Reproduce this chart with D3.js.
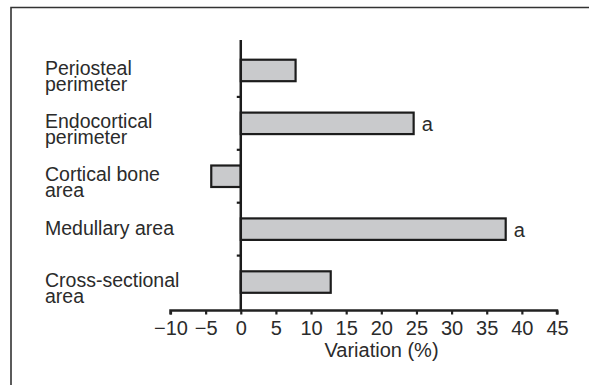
<!DOCTYPE html>
<html lang="en">
<head>
  <meta charset="UTF-8">
  <title>Variation bar chart</title>
  <script src="https://d3js.org/d3.v7.min.js"></script>
  <style>
    body { margin: 0; background: #fff; }
    text { font-family: "Liberation Sans", Arial, sans-serif; fill: #2b2b2b; }
  </style>
</head>
<body>
<div id="chart"></div>
<script>
  // Data
  const categories = ["Periosteal perimeter", "Endocortical perimeter", "Cortical bone area", "Medullary area", "Cross-sectional area"];
  const labelLines = [["Periosteal", "perimeter"], ["Endocortical", "perimeter"], ["Cortical bone", "area"], ["Medullary area"], ["Cross-sectional", "area"]];
  const values = [7.8, 24.6, -4.2, 37.7, 12.8];
  const marks = ["", "a", "", "a", ""];
  const xTicks = [-10, -5, 0, 5, 10, 15, 20, 25, 30, 35, 40, 45];
  const xTitle = "Variation (%)";

  const width = 589, height = 385;

  const svg = d3.select("#chart").append("svg")
    .attr("width", width)
    .attr("height", height);

  // frame (top and left edges visible)
  svg.append("path")
    .attr("d", "M11,385V7.5H589")
    .attr("fill", "none")
    .attr("stroke", "#333")
    .attr("stroke-width", 1.6);

  const x = d3.scaleLinear().domain([-10, 45]).range([170.5, 557]);
  const y = d3.scaleBand().domain(categories).range([44, 308.5])
    .paddingInner(0.594).paddingOuter(0.297);

  // bars
  svg.selectAll(".bar")
    .data(values)
    .enter().append("rect")
    .attr("class", "bar")
    .attr("x", d => x(Math.min(0, d)))
    .attr("y", (d, i) => y(categories[i]))
    .attr("width", d => Math.abs(x(d) - x(0)))
    .attr("height", y.bandwidth())
    .attr("fill", "#c9cacc")
    .attr("stroke", "#1c1c1c")
    .attr("stroke-width", 2.2);

  // significance marks
  svg.selectAll(".mark")
    .data(values)
    .enter().append("text")
    .attr("x", d => x(d) + 8)
    .attr("y", (d, i) => y(categories[i]) + y.bandwidth() / 2 + 7.5)
    .attr("font-size", 20)
    .text((d, i) => marks[i]);

  // x axis
  const xAxis = svg.append("g")
    .attr("transform", "translate(0,310.5)")
    .call(d3.axisBottom(x).tickValues(xTicks).tickSize(4).tickPadding(6));
  xAxis.select(".domain").attr("stroke", "#222").attr("stroke-width", 2.5).attr("d", `M${x(-10)},4V0H${x(45)}V4`);
  xAxis.selectAll(".tick line").attr("stroke", "#222").attr("stroke-width", 2.2);
  xAxis.selectAll(".tick text")
    .attr("font-size", 20)
    .attr("fill", "#2b2b2b")
    .style("font-family", '"Liberation Sans", Arial, sans-serif');

  svg.append("text")
    .attr("x", 381.5)
    .attr("y", 357)
    .attr("text-anchor", "middle")
    .attr("font-size", 20)
    .text(xTitle);

  // y axis line at zero with ticks between categories
  svg.append("line")
    .attr("x1", x(0)).attr("x2", x(0))
    .attr("y1", 40).attr("y2", 311)
    .attr("stroke", "#1c1c1c")
    .attr("stroke-width", 2.5);

  svg.selectAll(".ytick")
    .data(categories.slice(1))
    .enter().append("line")
    .attr("x1", x(0) - 4).attr("x2", x(0))
    .attr("y1", d => y(d) - y.step() * y.paddingInner() / 2)
    .attr("y2", d => y(d) - y.step() * y.paddingInner() / 2)
    .attr("stroke", "#1c1c1c")
    .attr("stroke-width", 2.2);

  // category labels
  const lab = svg.selectAll(".cat")
    .data(labelLines)
    .enter().append("text")
    .attr("class", "cat")
    .attr("x", 45)
    .attr("y", (d, i) => y(categories[i]) + y.bandwidth() / 2 + (d.length > 1 ? 4.5 : 6))
    .attr("font-size", 19.5);
  lab.selectAll("tspan")
    .data(d => d)
    .enter().append("tspan")
    .attr("x", 45)
    .attr("dy", (d, i) => i === 0 ? 0 : 16)
    .text(d => d);
</script>
</body>
</html>
